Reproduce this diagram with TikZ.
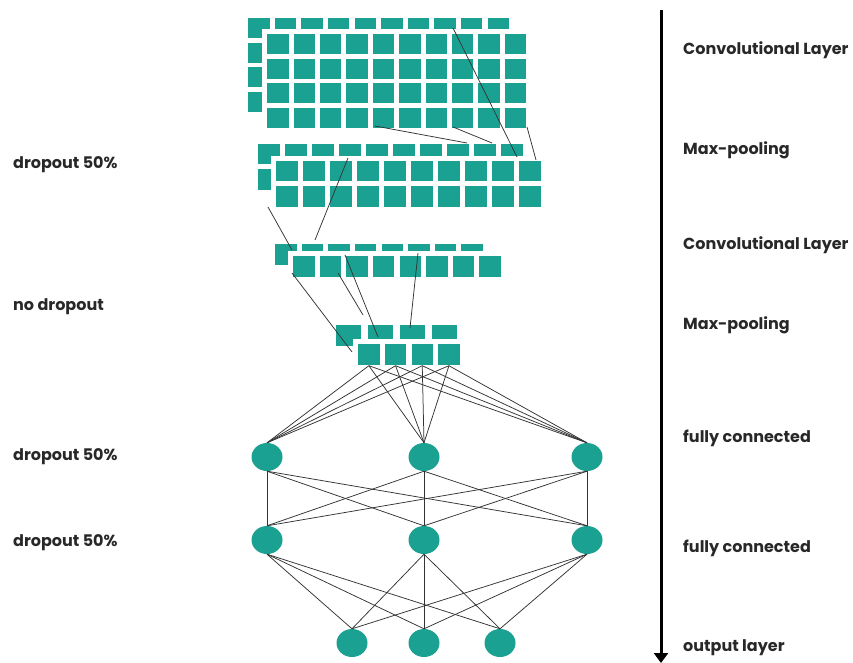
\documentclass[tikz,border=0pt]{standalone}
\usepackage{fontspec}
\setmainfont{Poppins}
\usetikzlibrary{shapes.geometric,arrows.meta}
\definecolor{cnnteal}{RGB}{27,161,146}
\definecolor{labelgray}{RGB}{40,40,40}
\begin{document}
\begin{tikzpicture}
  [x=1pt,y=-1pt,
   cell/.style={rectangle,anchor=north west,inner sep=0,fill=cnnteal,draw=white,
     line width=1.2pt,minimum width=#1,minimum height=21.5pt},
   cell/.default=22.5pt,
   unit/.style={ellipse,fill=cnnteal,minimum width=31pt,minimum height=28pt,inner sep=0},
   link/.style={draw=black!80,line width=0.75pt},
   lbl/.style={anchor=west,inner sep=0,text=labelgray,font=\bfseries\fontsize{16}{19}\selectfont}]
  \useasboundingbox (0,0) rectangle (853,663);

  % convolutional layer 1
  \foreach \i in {0,...,9}
    \foreach \j in {0,...,3}
      \node[cell] (ab-\i-\j) at ({247+26.6*\i},{17+24.5*\j}) {};
  \fill[white] (262,29) rectangle (528,131);
  \foreach \i in {0,...,9}
    \foreach \j in {0,...,3}
      \node[cell] (af-\i-\j) at ({266+26.4*\i},{33+24.5*\j}) {};

  % max-pooling 1
  \foreach \i in {0,...,9}
    \foreach \j in {0,...,1}
      \node[cell] (bb-\i-\j) at ({257+27*\i},{143+25*\j}) {};
  \fill[white] (271,156) rectangle (542,209);
  \foreach \i in {0,...,9}
    \foreach \j in {0,...,1}
      \node[cell] (bf-\i-\j) at ({275+27*\i},{160+25*\j}) {};

  % convolutional layer 2
  \foreach \i in {0,...,7}
    \node[cell] (cb-\i) at ({274+26.6*\i},243) {};
  \fill[white] (288,251) rectangle (502,279);
  \foreach \i in {0,...,7}
    \node[cell] (cf-\i) at ({292+26.6*\i},255) {};

  % max-pooling 2
  \foreach \i in {1,...,4}
    \node[cell=26pt] (db-\i) at ({335+32*(\i-1)},324) {};
  \fill[white] (353,339) rectangle (461,367);
  \foreach \i in {1,...,4}
    \node[cell] (df-\i) at ({357+26.7*(\i-1)},343) {};

  % pooling lines
  \coordinate (p1) at (453,28);   \coordinate (q1) at (517,157);
  \coordinate (p2) at (375,126);  \coordinate (q2) at (467,143);
  \coordinate (p3) at (453,127);  \coordinate (q3) at (492,143);
  \coordinate (p4) at (527,127);  \coordinate (q4) at (536,160);
  \coordinate (p5) at (348,158);  \coordinate (q5) at (315,240);
  \coordinate (p6) at (268,207);  \coordinate (q6) at (292,250);
  \coordinate (p7) at (292,273);  \coordinate (q7) at (352,352);
  \coordinate (p8) at (338,273);  \coordinate (q8) at (363,315);
  \coordinate (p9) at (345,255);  \coordinate (q9) at (378,337);
  \coordinate (p10) at (418,253); \coordinate (q10) at (410,328);
  \foreach \from/\to in {p1/q1,p2/q2,p3/q3,p4/q4,p5/q5,p6/q6,p7/q7,p8/q8,p9/q9,p10/q10}
    \draw[link] (\from) -- (\to);

  % dense layers
  \node[unit] (h1) at (267,457) {};
  \node[unit] (h2) at (424,457) {};
  \node[unit] (h3) at (587,457) {};
  \node[unit] (g1) at (267,540) {};
  \node[unit] (g2) at (424,540) {};
  \node[unit] (g3) at (587,540) {};
  \node[unit] (o1) at (352,643) {};
  \node[unit] (o2) at (424,643) {};
  \node[unit] (o3) at (500,643) {};

  \foreach \from in {df-1,df-2,df-3,df-4}
    \foreach \to in {h1,h2,h3}
      \draw[link] (\from.south) -- (\to.north);
  \foreach \from in {h1,h2,h3}
    \foreach \to in {g1,g2,g3}
      \draw[link] (\from.south) -- (\to.north);
  \foreach \from in {g1,g2,g3}
    \foreach \to in {o1,o2,o3}
      \draw[link] (\from.south) -- (\to.north);

  % direction arrow
  \coordinate (top) at (661,10);
  \coordinate (bot) at (661,663);
  \draw[line width=3pt,-{Triangle[width=14pt,length=10pt]}] (top) -- (bot);

  % layer names
  \node[lbl] (r1) at (683,50) {Convolutional Layer};
  \node[lbl] (r2) at (683,150) {Max-pooling};
  \node[lbl] (r3) at (683,245) {Convolutional Layer};
  \node[lbl] (r4) at (683,325) {Max-pooling};
  \node[lbl] (r5) at (683,438) {fully connected};
  \node[lbl] (r6) at (683,548) {fully connected};
  \node[lbl] (r7) at (683,648) {output layer};

  % dropout
  \node[lbl] (l1) at (13,165) {dropout 50\%};
  \node[lbl] (l2) at (13,307) {no dropout};
  \node[lbl] (l3) at (13,457) {dropout 50\%};
  \node[lbl] (l4) at (13,543) {dropout 50\%};
\end{tikzpicture}
\end{document}
